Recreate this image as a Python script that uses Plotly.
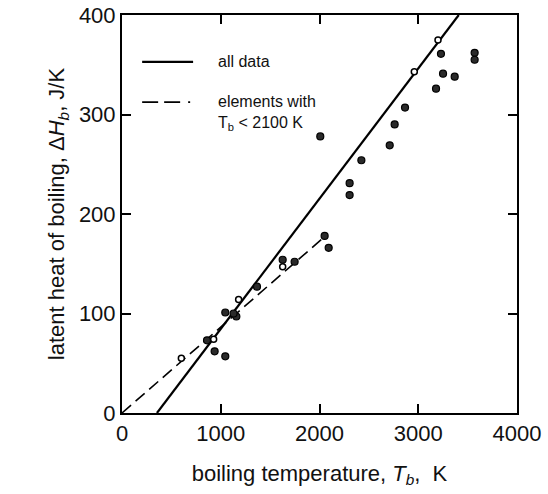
import plotly.graph_objects as go

# Boiling temperature (K) and latent heat of boiling (J/K) of the elements
tb_filled = [3230, 3571, 3571, 3251, 3369, 3180, 2866, 2761, 2711, 2424, 2008,
             2305, 2305, 2052, 2093, 1627, 1748, 1367, 1046, 1158, 1130, 938, 1046, 861]
dh_filled = [361, 362, 355, 341, 338, 326, 307, 290, 269, 254, 278,
             231, 219, 178, 166, 154, 152, 127, 101, 97, 100, 62, 57, 73]
tb_open = [3200, 2960, 1627, 1181, 928, 601]
dh_open = [375, 343, 147, 114, 74, 55]

# Least-squares lines: all data, and elements with Tb < 2100 K
fit_all_tb = [354, 3410]
fit_all_dh = [0, 400]
fit_low_tb = [0, 2050]
fit_low_dh = [0, 177]

x_ticks = [0, 1000, 2000, 3000, 4000]
y_ticks = [0, 100, 200, 300, 400]

legend_all = "all data"
legend_low = "elements with<br>T<sub>b</sub> < 2100 K"

SOLID_W = 2.2
DASH_W = 1.6

fig = go.Figure()
fig.add_trace(go.Scatter(x=fit_all_tb, y=fit_all_dh, mode="lines",
                         line=dict(color="black", width=SOLID_W), showlegend=False))
fig.add_trace(go.Scatter(x=fit_low_tb, y=fit_low_dh, mode="lines",
                         line=dict(color="black", width=DASH_W, dash="12px,6px"),
                         showlegend=False))
fig.add_trace(go.Scatter(x=tb_filled, y=dh_filled, mode="markers",
                         marker=dict(size=7, color="#2a2a2a", line=dict(color="black", width=1.2)),
                         showlegend=False))
fig.add_trace(go.Scatter(x=tb_open, y=dh_open, mode="markers",
                         marker=dict(size=6, color="white", line=dict(color="black", width=1.5)),
                         showlegend=False))

# Hand-placed key in the upper-left corner of the plot
fig.add_shape(type="line", xref="paper", yref="paper", x0=0.051, x1=0.18, y0=0.882, y1=0.882,
              line=dict(color="black", width=SOLID_W))
fig.add_shape(type="line", xref="paper", yref="paper", x0=0.051, x1=0.18, y0=0.781, y1=0.781,
              line=dict(color="black", width=DASH_W, dash="16px,6px,16px,8px,2px,40px"))
fig.add_annotation(text=legend_all, xref="paper", yref="paper", x=0.238, y=0.882,
                   xanchor="left", yanchor="middle", showarrow=False,
                   font=dict(size=16, color="#111"))
fig.add_annotation(text=legend_low, xref="paper", yref="paper", x=0.238, y=0.755,
                   xanchor="left", yanchor="middle", showarrow=False, align="left",
                   font=dict(size=16, color="#111"))

font = "Liberation Sans, Arial, Helvetica, sans-serif"
axis_common = dict(ticks="inside", ticklen=9, tickwidth=1.8, tickcolor="black",
                   showline=True, linecolor="black", linewidth=2, mirror="ticks",
                   showgrid=False, zeroline=False, tickfont=dict(size=22),
                   automargin=False)
fig.update_layout(
    width=548, height=494,
    margin=dict(l=122, r=31, t=15, b=81),
    paper_bgcolor="white", plot_bgcolor="white",
    font=dict(family=font, color="#111", size=22),
    xaxis=dict(range=[0, 4000], tickvals=x_ticks, **axis_common,
               title=dict(text="boiling temperature, <i>T<sub>b</sub></i>,  K",
                          font=dict(size=22), standoff=20)),
    yaxis=dict(range=[0, 400], tickvals=y_ticks, **axis_common,
               title=dict(text="latent heat of boiling, Δ<i>H<sub>b</sub></i>, J/K",
                          font=dict(size=22), standoff=8)),
)

fig.write_html("out.html")
